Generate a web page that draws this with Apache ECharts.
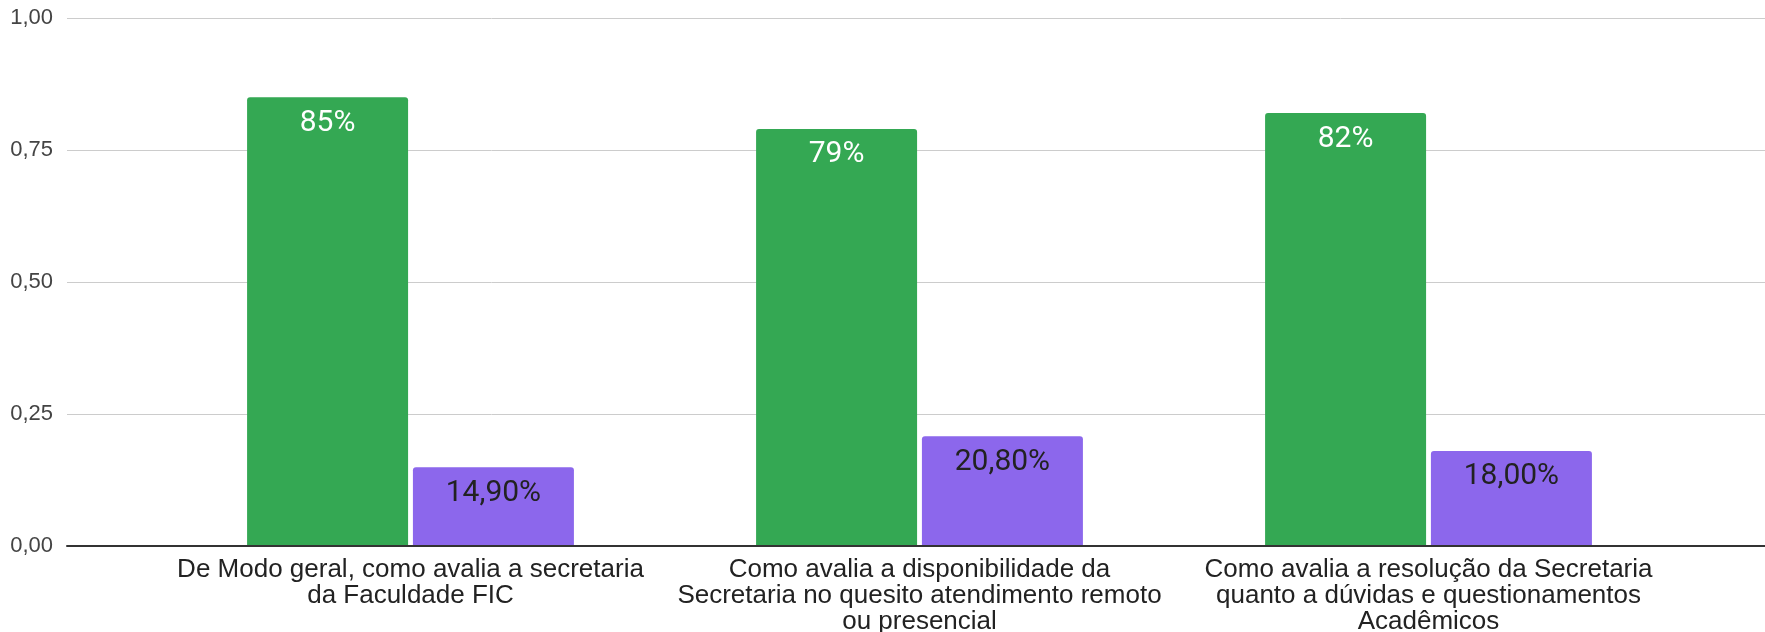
<!DOCTYPE html>
<html>
<head>
<meta charset="utf-8">
<script src="https://cdn.jsdelivr.net/npm/echarts@6/dist/echarts.min.js"></script>
<style>
  html, body { margin: 0; padding: 0; background: #fff; }
  #chart { width: 1765px; height: 632px; }
</style>
</head>
<body>
<div id="chart"></div>
<script>
// perguntas (eixo x)
var categories = [
  'De Modo geral, como avalia a secretaria\nda Faculdade FIC',
  'Como avalia a disponibilidade da\nSecretaria no quesito atendimento remoto\nou presencial',
  'Como avalia a resolução da Secretaria\nquanto a dúvidas e questionamentos\nAcadêmicos'
];
var greenValues = [0.85, 0.79, 0.82];
var purpleValues = [0.149, 0.208, 0.18];
var yTicks = [0, 0.25, 0.5, 0.75, 1];

var chart = echarts.init(document.getElementById('chart'));

function comma(v, d) {
  return v.toFixed(d).replace('.', ',');
}

chart.setOption({
  animation: false,
  grid: [
    // linhas de grade
    { left: 67, right: 0, top: 18, bottom: 86, outerBoundsMode: 'none' },
    // barras
    { left: 156, right: 82, top: 18, bottom: 86, outerBoundsMode: 'none' }
  ],
  xAxis: [
    {
      gridIndex: 0,
      type: 'category',
      data: [''],
      z: 5,
      axisLine: { lineStyle: { color: '#333', width: 2 } },
      axisTick: { show: false },
      axisLabel: { show: false }
    },
    {
      gridIndex: 1,
      type: 'category',
      data: categories,
      axisLine: { show: false },
      axisTick: { show: false },
      axisLabel: {
        margin: 11,
        color: '#222',
        fontFamily: 'Liberation Sans',
        fontSize: 26,
        lineHeight: 26,
        interval: 0
      }
    }
  ],
  yAxis: [
    {
      gridIndex: 0,
      type: 'value',
      min: yTicks[0],
      max: yTicks[yTicks.length - 1],
      interval: 0.25,
      axisLine: { show: false },
      axisTick: { show: false },
      splitLine: { lineStyle: { color: '#cccccc', width: 1 } },
      axisLabel: {
        margin: 14,
        color: '#444',
        fontFamily: 'Liberation Sans',
        fontSize: 22,
        formatter: function (v) { return comma(v, 2); }
      }
    },
    {
      gridIndex: 1,
      type: 'value',
      min: 0,
      max: 1,
      show: false,
      splitLine: { show: false }
    }
  ],
  series: [
    {
      type: 'bar',
      xAxisIndex: 1,
      yAxisIndex: 1,
      data: greenValues,
      barWidth: 161,
      barGap: '3%',
      itemStyle: { color: '#34a853', borderRadius: [3, 3, 0, 0] },
      label: {
        show: true,
        position: 'insideTop',
        distance: 11,
        color: '#fff',
        fontFamily: 'Roboto',
        fontSize: 30,
        formatter: function (p) { return Math.round(p.value * 100) + '%'; }
      }
    },
    {
      type: 'bar',
      xAxisIndex: 1,
      yAxisIndex: 1,
      data: purpleValues,
      barWidth: 161,
      barGap: '3%',
      itemStyle: { color: '#8c67ec', borderRadius: [3, 3, 0, 0] },
      label: {
        show: true,
        position: 'insideTop',
        distance: 11,
        color: '#222',
        fontFamily: 'Roboto',
        fontSize: 30,
        formatter: function (p) { return comma(p.value * 100, 2) + '%'; }
      }
    }
  ]
});
</script>
</body>
</html>
